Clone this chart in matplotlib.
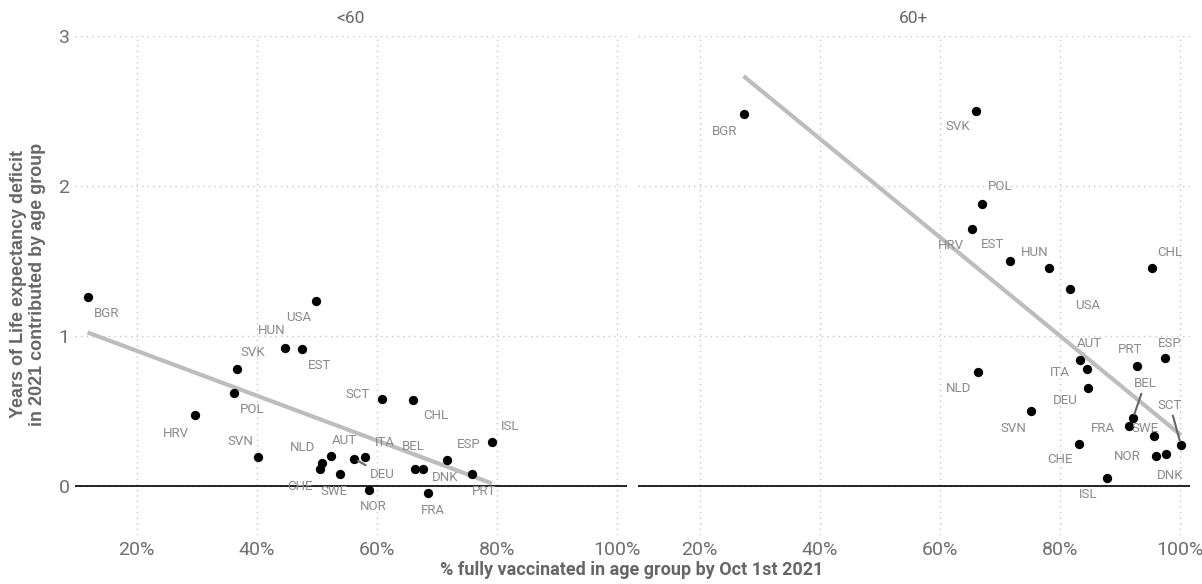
import numpy as np
import matplotlib.pyplot as plt

plt.rcParams['font.family'] = ['Roboto', 'DejaVu Sans']

# <60 age group
u60_country = ['BGR', 'USA', 'HUN', 'EST', 'SVK', 'POL', 'HRV', 'SVN', 'SCT', 'CHL', 'NLD', 'CHE',
               'AUT', 'SWE', 'DEU', 'ITA', 'NOR', 'BEL', 'DNK', 'FRA', 'ESP', 'PRT', 'ISL']
u60_vax = [11.8, 49.8, 44.7, 47.5, 36.7, 36.2, 29.7, 40.2, 60.8, 66.0, 50.8, 50.5,
           52.3, 53.8, 56.2, 58.0, 58.7, 66.3, 67.7, 68.5, 71.7, 75.8, 79.2]
u60_deficit = [1.26, 1.23, 0.92, 0.91, 0.78, 0.62, 0.47, 0.19, 0.58, 0.57, 0.15, 0.11,
               0.20, 0.08, 0.18, 0.19, -0.03, 0.11, 0.11, -0.05, 0.17, 0.08, 0.29]

# 60+ age group
o60_country = ['BGR', 'SVK', 'POL', 'HRV', 'EST', 'HUN', 'USA', 'CHL', 'AUT', 'ITA', 'DEU', 'NLD',
               'SVN', 'PRT', 'ESP', 'BEL', 'FRA', 'SWE', 'SCT', 'NOR', 'DNK', 'CHE', 'ISL']
o60_vax = [27.3, 66.0, 67.0, 65.3, 71.7, 78.2, 81.7, 95.3, 83.3, 84.5, 84.7, 66.3,
           75.2, 92.8, 97.5, 92.2, 91.5, 95.7, 100.2, 96.0, 97.7, 83.2, 87.8]
o60_deficit = [2.48, 2.50, 1.88, 1.71, 1.50, 1.45, 1.31, 1.45, 0.84, 0.78, 0.65, 0.76,
               0.50, 0.80, 0.85, 0.45, 0.40, 0.33, 0.27, 0.20, 0.21, 0.28, 0.05]

panel_titles = ['<60', '60+']
x_ticks = [20, 40, 60, 80, 100]
y_ticks = [0, 1, 2, 3]

# label offsets in pixels (dx, dy), dy positive = up
u60_offsets = {'BGR': (19, -17), 'USA': (-17, -16), 'HUN': (-13, 17), 'EST': (18, -16),
               'SVK': (16, 16), 'POL': (18, -17), 'HRV': (-19, -18), 'SVN': (-18, 16),
               'SCT': (-24, 4), 'CHL': (23, -15), 'NLD': (-19, 16), 'CHE': (-20, -17),
               'AUT': (14, 15), 'SWE': (-6, -18), 'DEU': (28, -16), 'ITA': (20, 15),
               'NOR': (4, -16), 'BEL': (-1, 23), 'DNK': (22, -8), 'FRA': (5, -17),
               'ESP': (22, 16), 'PRT': (12, -18), 'ISL': (18, 16)}
o60_offsets = {'BGR': (-19, -18), 'SVK': (-18, -16), 'POL': (18, 17), 'HRV': (-21, -16),
               'EST': (-18, 16), 'HUN': (-14, 16), 'USA': (18, -16), 'CHL': (18, 16),
               'AUT': (10, 16), 'ITA': (-27, -4), 'DEU': (-23, -12), 'NLD': (-19, -17),
               'SVN': (-18, -18), 'PRT': (-7, 16), 'ESP': (5, 15), 'BEL': (12, 35),
               'FRA': (-26, -3), 'SWE': (-9, 8), 'SCT': (-11, 40), 'NOR': (-29, -1),
               'DNK': (4, -21), 'CHE': (-19, -16), 'ISL': (-18, -16)}
u60_segments = ['DEU']
o60_segments = ['BEL', 'SCT']

fig = plt.figure(figsize=(12.02, 5.84), dpi=100)
W, H = 1202, 584
ax1 = fig.add_axes([75 / W, (H - 535) / H, 552 / W, 499 / H])
ax2 = fig.add_axes([638 / W, (H - 535) / H, 552 / W, 499 / H])

grey_txt = '#6e6e6e'
panels = [(ax1, u60_country, u60_vax, u60_deficit, u60_offsets, u60_segments),
          (ax2, o60_country, o60_vax, o60_deficit, o60_offsets, o60_segments)]

for i, (ax, names, xs, ys, offs, segs) in enumerate(panels):
    ax.set_xlim(9.7, 101.7)
    ax.set_ylim(-0.33, 3.0)
    for s in ax.spines.values():
        s.set_visible(False)
    ax.set_xticks(x_ticks)
    ax.set_xticklabels([f'{t}%' for t in x_ticks])
    ax.set_yticks(y_ticks)
    ax.tick_params(length=0, labelsize=14, labelcolor=grey_txt, pad=4)
    ax.grid(True, color='#c8c8c8', linestyle=(0, (1, 3)), linewidth=1)
    ax.set_axisbelow(True)
    if i == 1:
        ax.set_yticklabels([])
    ax.axhline(0, color='black', lw=1.2, zorder=1)

    # linear trend
    xa = np.array(xs)
    ya = np.array(ys)
    k, b = np.polyfit(xa, ya, 1)
    xx = np.array([xa.min(), xa.max()])
    ax.plot(xx, k * xx + b, color='#bdbdbd', lw=3, zorder=2, solid_capstyle='butt')

    ax.scatter(xs, ys, s=45, color='black', zorder=3, linewidths=0)

    for n, x, y in zip(names, xs, ys):
        dx, dy = offs[n]
        if n in segs:
            ax.annotate(n, (x, y), xytext=(dx, dy), textcoords='offset pixels',
                        ha='center', va='center', fontsize=9.5, color='#8a8a8a', zorder=4,
                        arrowprops=dict(arrowstyle='-', color='#666666', lw=1.5,
                                        shrinkA=1, shrinkB=3))
        else:
            ax.annotate(n, (x, y), xytext=(dx, dy), textcoords='offset pixels',
                        ha='center', va='center', fontsize=9.5, color='#8a8a8a', zorder=4)

    ax.text(0.5, 1.02, panel_titles[i], transform=ax.transAxes, ha='center', va='bottom',
            fontsize=12.5, color='#666666')

fig.text(632 / W, 1 - 570 / H, '% fully vaccinated in age group by Oct 1st 2021',
         ha='center', va='center', fontsize=13, fontweight='bold', color='#666666')
fig.text(28 / W, 1 - 284 / H, 'Years of Life expectancy deficit\nin 2021 contributed by age group',
         ha='center', va='center', rotation=90, fontsize=13, fontweight='bold',
         color='#666666', linespacing=1.1, family=['Liberation Sans', 'DejaVu Sans'])

fig.savefig('out.png', dpi=100)
